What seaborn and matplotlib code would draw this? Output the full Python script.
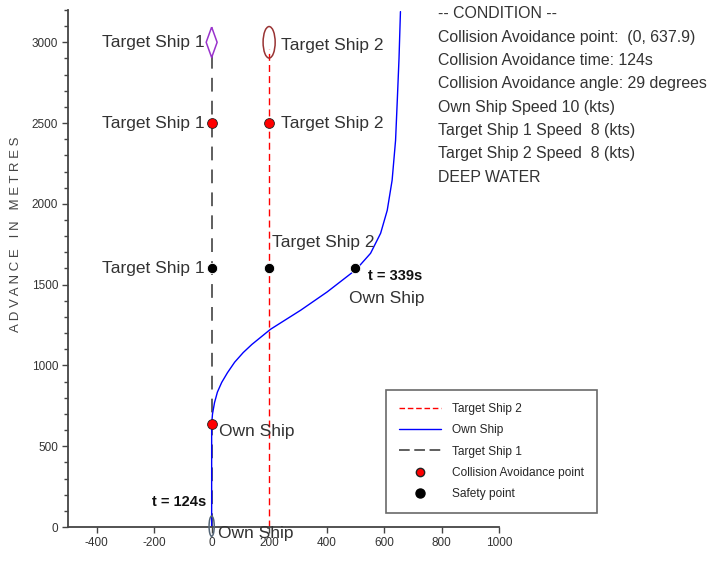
import numpy as np
import pandas as pd
import seaborn as sns
import matplotlib.pyplot as plt
from matplotlib.lines import Line2D
from matplotlib.patches import Ellipse
from matplotlib.ticker import MultipleLocator

# own ship track
own_x = [0, 0, 3, 10, 20, 35, 55, 80, 110, 140, 205, 310, 402, 503, 553, 588, 611, 628, 640, 646, 652, 657]
own_y = [0, 638, 700, 770, 835, 895, 955, 1020, 1080, 1130, 1224, 1342, 1455, 1594, 1694, 1818, 1960, 2146, 2393, 2641, 2900, 3190]
ts1_x = [0, 0]
ts1_y = [0, 2960]
ts2_x = [200, 200]
ts2_y = [0, 2960]

# collision avoidance points (red) and safety points (black)
ca_x = [0, 200, 0]
ca_y = [2500, 2500, 638]
safe_x = [0, 200, 500]
safe_y = [1600, 1600, 1600]

condition = ["-- CONDITION --",
             "Collision Avoidance point:  (0, 637.9)",
             "Collision Avoidance time: 124s",
             "Collision Avoidance angle: 29 degrees",
             "Own Ship Speed 10 (kts)",
             "Target Ship 1 Speed  8 (kts)",
             "Target Ship 2 Speed  8 (kts)",
             "DEEP WATER"]

sns.set_style("ticks")
plt.rcParams['font.family'] = ['Liberation Sans', 'DejaVu Sans']
plt.rcParams['axes.unicode_minus'] = False

fig = plt.figure(figsize=(7.14, 5.61), dpi=100)
ax = fig.add_axes([0.0952, 0.0606, 0.6037, 0.9216])

sns.lineplot(x=ts2_x, y=ts2_y, ax=ax, color="red", linewidth=1,
             linestyle=(0, (5, 3)), estimator=None, sort=False)
sns.lineplot(x=ts1_x, y=ts1_y, ax=ax, color="#333333", linewidth=1.1,
             linestyle=(0, (9, 6)), estimator=None, sort=False)
sns.lineplot(x=own_x, y=own_y, ax=ax, color="blue", linewidth=1,
             estimator=None, sort=False)

sns.scatterplot(x=ca_x, y=ca_y, ax=ax, color="red", edgecolor="#222222",
                s=50, linewidth=0.6, zorder=5)
sns.scatterplot(x=safe_x, y=safe_y, ax=ax, color="black", s=55, zorder=5)

# ship symbols
diamond = [(0, 1), (0.36, 0), (0, -1), (-0.36, 0), (0, 1)]
ax.scatter([0], [3000], marker=diamond, s=480, facecolor="none",
           edgecolor="#9933cc", linewidth=1.1, zorder=4)
ax.add_patch(Ellipse((200, 3000), 42, 195, fill=False, edgecolor="#993333", linewidth=1.1, zorder=4))
ax.add_patch(Ellipse((0, 5), 18, 125, fill=False, edgecolor="#556677", linewidth=1.1,
                     zorder=4, clip_on=False))

lab = dict(fontsize=12.5, color="#333333")
ax.text(-25, 3000, "Target Ship 1", ha="right", va="center", **lab)
ax.text(240, 2980, "Target Ship 2", ha="left", va="center", **lab)
ax.text(-25, 2500, "Target Ship 1", ha="right", va="center", **lab)
ax.text(240, 2500, "Target Ship 2", ha="left", va="center", **lab)
ax.text(-25, 1600, "Target Ship 1", ha="right", va="center", **lab)
ax.text(210, 1760, "Target Ship 2", ha="left", va="center", **lab)
ax.text(545, 1555, "t = 339s", ha="left", va="center", fontsize=10.5, fontweight="bold", color="#111111")
ax.text(478, 1415, "Own Ship", ha="left", va="center", **lab)
ax.text(25, 590, "Own Ship", ha="left", va="center", **lab)
ax.text(-18, 155, "t = 124s", ha="right", va="center", fontsize=10.5, fontweight="bold", color="#111111")
ax.text(22, -40, "Own Ship", ha="left", va="center", clip_on=False, **lab)

ax.set_xlim(-500, 1000)
ax.set_ylim(0, 3200)
ax.xaxis.set_major_locator(MultipleLocator(200))
ax.yaxis.set_major_locator(MultipleLocator(500))
ax.yaxis.set_minor_locator(MultipleLocator(100))
ax.tick_params(axis="both", which="major", length=4, width=1, color="#444444",
               labelsize=8.5, labelcolor="#333333", pad=3)
ax.tick_params(axis="y", which="minor", length=3, width=1, color="#444444")
sns.despine(ax=ax)
for sp in ["left", "bottom"]:
    ax.spines[sp].set_color("#444444")
    ax.spines[sp].set_linewidth(1.3)

fig.text(0.022, 0.583, "A D V A N C E   I N   M E T R E S", rotation=90,
         ha="center", va="center", fontsize=9.5, color="#444444")

for i, line in enumerate(condition):
    fig.text(0.613, 1 - (14 + 23.3 * i) / 561, line, ha="left", va="center",
             fontsize=11.4, color="#333333")

handles = [Line2D([], [], color="red", linewidth=1, linestyle=(0, (4, 2))),
           Line2D([], [], color="blue", linewidth=1),
           Line2D([], [], color="#333333", linewidth=1.1, linestyle=(0, (7, 3))),
           Line2D([], [], color="red", marker="o", markeredgecolor="#222222", markersize=6,
                  linestyle="none"),
           Line2D([], [], color="black", marker="o", markersize=6.5, linestyle="none")]
labels = ["Target Ship 2", "Own Ship", "Target Ship 1",
          "Collision Avoidance point", "Safety point"]
leg = fig.legend(handles, labels, loc="upper left", bbox_to_anchor=(0.541, 0.305),
                 fontsize=8.6, frameon=True, fancybox=False, edgecolor="#444444",
                 borderpad=1.1, labelspacing=0.78, handlelength=3.5, handletextpad=0.9,
                 borderaxespad=0)
leg.get_frame().set_linewidth(1.2)

fig.savefig("out.png", dpi=100)
